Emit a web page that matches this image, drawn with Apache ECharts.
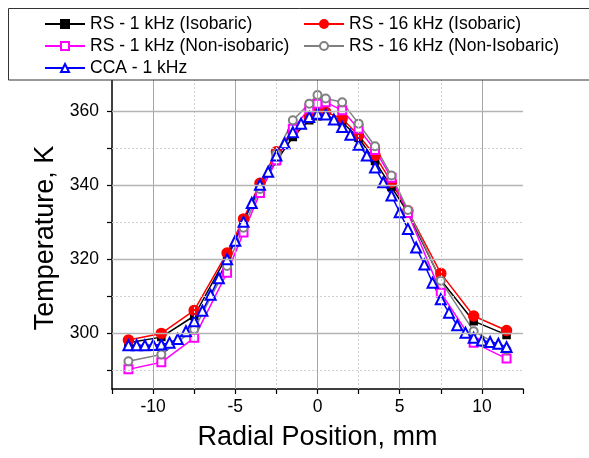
<!DOCTYPE html>
<html><head><meta charset="utf-8">
<script src="https://cdn.jsdelivr.net/npm/echarts@6/dist/echarts.min.js"></script>
<style>html,body{margin:0;padding:0;background:#fff}#c{width:589px;height:458px}</style>
</head><body><div id="c"></div>
<script>
// ---- data ----
const seriesNames = ['RS - 1 kHz (Isobaric)', 'RS - 16 kHz (Isobaric)', 'RS - 1 kHz (Non-isobaric)', 'RS - 16 kHz (Non-Isobaric)', 'CCA - 1 kHz'];
const xRS = [-11.5, -9.5, -7.5, -5.5, -4.5, -3.5, -2.5, -1.5, -0.5, 0, 0.5, 1.5, 2.5, 3.5, 4.5, 5.5, 7.5, 9.5, 11.5];
const rs1Iso  = [297.5, 299.0, 304.7, 320.9, 330.2, 339.5, 346.5, 353.0, 357.5, 358.6, 358.8, 357.0, 352.8, 346.5, 339.5, 332.6, 314.4, 303.3, 299.6];
const rs16Iso = [298.2, 300.0, 306.2, 321.7, 330.9, 340.5, 349.0, 354.5, 358.2, 359.7, 359.7, 358.0, 353.4, 348.0, 340.8, 333.1, 316.2, 304.7, 300.8];
const rs1Non  = [290.3, 292.2, 298.8, 316.4, 327.2, 337.9, 346.7, 355.2, 360.7, 362.0, 362.4, 360.2, 355.2, 349.5, 342.0, 332.5, 311.0, 297.5, 293.2];
const rs16Non = [292.5, 294.3, 301.1, 318.2, 328.5, 339.0, 348.5, 357.5, 362.0, 364.3, 363.4, 362.4, 356.6, 350.5, 342.6, 333.3, 314.2, 300.6, 295.6];
const xCCA = [-11.5, -11, -10.5, -10, -9.5, -9, -8.5, -8, -7.5, -7, -6.5, -6, -5.5, -5, -4.5, -4, -3.5, -3, -2.5, -2, -1.5, -1, -0.5, 0,
              0.5, 1, 1.5, 2, 2.5, 3, 3.5, 4, 4.5, 5, 5.5, 6, 6.5, 7, 7.5, 8, 8.5, 9, 9.5, 10, 10.5, 11, 11.5];
const cca1 = [296.8, 296.8, 296.8, 296.9, 297.0, 297.5, 298.5, 300.6, 303.3, 306.1, 310.4, 314.9, 320.0, 325.0, 330.1, 335.2, 340.1, 343.6, 348.0, 351.3, 354.3, 356.6, 358.4, 359.3,
              359.1, 357.7, 355.7, 353.6, 350.9, 348.0, 344.8, 340.8, 337.2, 332.7, 328.2, 323.2, 318.6, 313.7, 309.2, 305.6, 302.2, 300.2, 298.8, 298.1, 297.7, 297.2, 296.3];
const xTicks = [-12.5, -10, -7.5, -5, -2.5, 0, 2.5, 5, 7.5, 10, 12.5];
const xLabels = [-10, -5, 0, 5, 10];
const xMajorGrid = [-10, -5, 0, 5, 10];
const xMinorGrid = [-7.5, -2.5, 2.5, 7.5];
const yTicks = [290, 300, 310, 320, 330, 340, 350, 360];
const yLabels = [300, 320, 340, 360];
const yMajorGrid = [300, 320, 340, 360];
const yMinorGrid = [290, 310, 330, 350];

const FONT = '"Liberation Sans", Arial, sans-serif';
const pair = (xs, ys) => xs.map((x, i) => [x, ys[i]]);

const styles = [
  {color: '#000000', symbol: 'rect', size: 7},
  {color: '#ff0000', symbol: 'circle', size: 10},
  {color: '#ff00ff', symbol: 'emptyRect', size: 8},
  {color: '#808080', symbol: 'emptyCircle', size: 8},
  {color: '#0000ff', symbol: 'emptyTriangle', size: 10}
];
const dataSets = [pair(xRS, rs1Iso), pair(xRS, rs16Iso), pair(xRS, rs1Non), pair(xRS, rs16Non), pair(xCCA, cca1)];

const legendPos = [[44, 14], [303, 14], [44, 36], [303, 36], [44, 58]];

// grid lines drawn as mark lines through the axes' scales
function gridSeries(dim, vals, style) {
  return {
    type: 'line', data: [], z: 1, silent: true, legendHoverLink: false,
    markLine: {
      silent: true, symbol: ['none', 'none'], animation: false,
      label: {show: false}, emphasis: {disabled: true},
      lineStyle: style,
      data: vals.map(v => (dim === 'x' ? {xAxis: v} : {yAxis: v}))
    }
  };
}

const chart = echarts.init(document.getElementById('c'), null, {renderer: 'canvas'});
chart.setOption({
  animation: false,
  backgroundColor: '#fff',
  grid: {left: 112, right: 66, top: 74, bottom: 69, containLabel: false},
  graphic: [{
    type: 'rect', z: 50,
    shape: {x: 8.5, y: 8.5, width: 620, height: 71.5},
    style: {fill: '#fff', stroke: '#333', lineWidth: 1}
  }],
  legend: seriesNames.map((n, i) => ({
    data: [n], left: legendPos[i][0], top: legendPos[i][1], padding: 0, z: 60,
    itemWidth: 40, itemHeight: 10, selectedMode: false,
    textStyle: {fontFamily: FONT, fontSize: 17.5, color: '#000', lineHeight: 20}
  })),
  xAxis: {
    type: 'value', min: -12.5, max: 12.5,
    axisLine: {show: true, onZero: false, lineStyle: {color: '#000', width: 1.5}},
    axisTick: {show: true, inside: false, length: 5, customValues: xTicks, lineStyle: {color: '#000', width: 1.2}},
    axisLabel: {customValues: xLabels, margin: 9, fontFamily: FONT, fontSize: 17.5, color: '#000'},
    splitLine: {show: false},
    name: 'Radial Position, mm', nameLocation: 'middle', nameGap: 35,
    nameTextStyle: {fontFamily: FONT, fontSize: 27, color: '#000'}
  },
  yAxis: {
    type: 'value', min: 285, max: 370,
    axisLine: {show: true, onZero: false, lineStyle: {color: '#000', width: 1.5}},
    axisTick: {show: true, inside: false, length: 5, customValues: yTicks, lineStyle: {color: '#000', width: 1.2}},
    axisLabel: {customValues: yLabels, margin: 13, fontFamily: FONT, fontSize: 17.5, color: '#000'},
    splitLine: {show: false},
    name: 'Temperature, K', nameLocation: 'middle', nameGap: 53, nameRotate: 90,
    nameTextStyle: {fontFamily: FONT, fontSize: 27, color: '#000', padding: [0, 13, 0, 0]}
  },
  series: [
    gridSeries('x', xMinorGrid, {color: '#d0d0d0', type: [2, 2], width: 1}),
    gridSeries('y', yMinorGrid, {color: '#d0d0d0', type: [2, 2], width: 1}),
    gridSeries('x', xMajorGrid, {color: '#a6a6a6', type: 'solid', width: 1}),
    gridSeries('y', yMajorGrid, {color: '#b4b4b4', type: 'solid', width: 1.3})
  ].concat(seriesNames.map((n, i) => ({
    name: n, type: 'line', data: dataSets[i], z: 2,
    symbol: styles[i].symbol, symbolSize: styles[i].size, showAllSymbol: true,
    lineStyle: {color: styles[i].color, width: 1.5},
    itemStyle: {color: styles[i].color, borderColor: styles[i].color, borderWidth: 1.5},
    emphasis: {disabled: true}
  })))
});
</script></body></html>
